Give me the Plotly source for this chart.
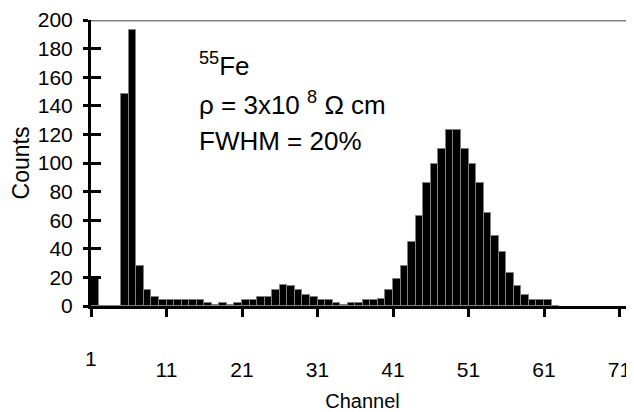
import plotly.graph_objects as go

# ---- data ----
channels = list(range(1, 63))
counts = [20, 0, 0, 0, 148, 193, 28, 11, 6, 4,
          4, 4, 4, 4, 4, 2, 1, 2, 1, 2,
          4, 4, 6, 6, 11, 15, 14, 11, 8, 6,
          4, 4, 2, 1, 2, 2, 4, 4, 5, 11,
          19, 28, 45, 63, 86, 99, 110, 123, 123, 110,
          99, 86, 65, 49, 38, 23, 14, 8, 4, 4,
          4, 0]
tick_channels = [1, 11, 21, 31, 41, 51, 61, 71]
y_ticks = list(range(0, 201, 20))

# page has an 8px body margin: figure is drawn at (8, 8)
OFF = 8
W, H = 634 - OFF, 412 - OFF
L, R, T = 91 - OFF, 0, 20 - OFF
B = H - (306 - OFF)
pw, ph = W - L - R, H - T - B
px_per_ch = 7.55
x_range = [0.5, 0.5 + pw / px_per_ch]

FONT = "Liberation Sans, Arial, sans-serif"

fig = go.Figure()
fig.add_trace(go.Bar(
    x=channels, y=counts, width=1,
    marker=dict(color="black", line=dict(color="#808080", width=1)),
    showlegend=False, hoverinfo="x+y",
))

fig.update_layout(
    template="none",
    width=W, height=H,
    margin=dict(l=L, r=R, t=T, b=B, pad=0, autoexpand=False),
    paper_bgcolor="white", plot_bgcolor="white",
    bargap=0,
    font=dict(family=FONT, size=21, color="black"),
    xaxis=dict(
        range=x_range, automargin=False,
        tickmode="array",
        tickvals=[c - 0.5 for c in tick_channels],
        ticktext=[""] + [str(c) for c in tick_channels[1:]],
        ticks="outside", ticklen=8, tickwidth=3, tickcolor="black",
        showline=True, linecolor="black", linewidth=3,
        showgrid=False, zeroline=False,
        ticklabelstandoff=35,
        tickfont=dict(size=21),
        title=dict(text="Channel", font=dict(size=20), standoff=14),
    ),
    yaxis=dict(
        range=[0, 200], automargin=False,
        tickmode="array", tickvals=y_ticks,
        ticks="outside", ticklen=5, tickwidth=3, tickcolor="black",
        showline=True, linecolor="black", linewidth=3,
        showgrid=False, zeroline=False,
        ticklabelstandoff=6,
        tickfont=dict(size=21),
        title=dict(text="Counts", font=dict(size=23), standoff=17),
    ),
    yaxis2=dict(
        range=[0, 200], overlaying="y", side="left", automargin=False,
        tickmode="array", tickvals=y_ticks,
        ticks="inside", ticklen=10, tickwidth=3, tickcolor="black",
        showticklabels=False, showline=False, showgrid=False, zeroline=False,
    ),
)

# invisible trace to activate yaxis2
fig.add_trace(go.Scatter(x=[None], y=[None], yaxis="y2", showlegend=False, hoverinfo="skip"))

# grey top border of the plot area
fig.add_shape(type="line", xref="paper", yref="y", x0=0, x1=1, y0=200, y1=200,
              line=dict(color="#808080", width=3), layer="below")

def px_x(p):
    return (p - OFF - L) / pw

def px_y(p):
    return (H - B - (p - OFF)) / ph

# raised first category label
fig.add_annotation(x=0.5, xref="x", y=px_y(358), yref="paper", text="1",
                   showarrow=False, font=dict(size=21), xanchor="center", yanchor="middle")

# info text
fig.add_annotation(x=px_x(197), y=px_y(65), xref="paper", yref="paper",
                   text="<sup>55</sup>Fe", showarrow=False, xanchor="left", yanchor="middle",
                   font=dict(size=26))
fig.add_annotation(x=px_x(197), y=px_y(103), xref="paper", yref="paper",
                   text="\u03c1 = 3x10 <sup>8</sup> \u03a9 cm", showarrow=False,
                   xanchor="left", yanchor="middle", font=dict(size=26))
fig.add_annotation(x=px_x(197), y=px_y(141), xref="paper", yref="paper",
                   text="FWHM = 20%", showarrow=False, xanchor="left", yanchor="middle",
                   font=dict(size=26))

fig.write_html("out.html")
